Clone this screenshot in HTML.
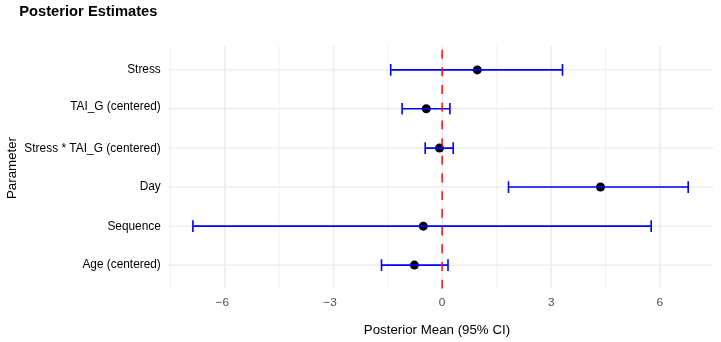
<!DOCTYPE html><html><head><meta charset="utf-8"><title>Posterior Estimates</title><style>html,body{margin:0;padding:0;background:#fff;overflow:hidden;}svg{display:block;}text{font-family:"Liberation Sans",Arial,sans-serif;}</style></head><body>
<svg width="721" height="342" viewBox="0 0 721 342">
<rect width="721" height="342" fill="#fff"/>
<line x1="170.37" y1="45.7" x2="170.37" y2="288.6" stroke="#EBEBEB" stroke-width="0.71"/>
<line x1="279.18" y1="45.7" x2="279.18" y2="288.6" stroke="#EBEBEB" stroke-width="0.71"/>
<line x1="388.00" y1="45.7" x2="388.00" y2="288.6" stroke="#EBEBEB" stroke-width="0.71"/>
<line x1="496.80" y1="45.7" x2="496.80" y2="288.6" stroke="#EBEBEB" stroke-width="0.71"/>
<line x1="605.62" y1="45.7" x2="605.62" y2="288.6" stroke="#EBEBEB" stroke-width="0.71"/>
<line x1="224.78" y1="45.7" x2="224.78" y2="288.6" stroke="#EBEBEB" stroke-width="1.42"/>
<line x1="333.59" y1="45.7" x2="333.59" y2="288.6" stroke="#EBEBEB" stroke-width="1.42"/>
<line x1="442.40" y1="45.7" x2="442.40" y2="288.6" stroke="#EBEBEB" stroke-width="1.42"/>
<line x1="551.21" y1="45.7" x2="551.21" y2="288.6" stroke="#EBEBEB" stroke-width="1.42"/>
<line x1="660.02" y1="45.7" x2="660.02" y2="288.6" stroke="#EBEBEB" stroke-width="1.42"/>
<line x1="168.0" y1="69.9" x2="713.0" y2="69.9" stroke="#EBEBEB" stroke-width="1.42"/>
<line x1="168.0" y1="108.75" x2="713.0" y2="108.75" stroke="#EBEBEB" stroke-width="1.42"/>
<line x1="168.0" y1="148.1" x2="713.0" y2="148.1" stroke="#EBEBEB" stroke-width="1.42"/>
<line x1="168.0" y1="187.05" x2="713.0" y2="187.05" stroke="#EBEBEB" stroke-width="1.42"/>
<line x1="168.0" y1="226.15" x2="713.0" y2="226.15" stroke="#EBEBEB" stroke-width="1.42"/>
<line x1="168.0" y1="265.1" x2="713.0" y2="265.1" stroke="#EBEBEB" stroke-width="1.42"/>
<circle cx="477.3" cy="69.9" r="4.5" fill="#000"/>
<circle cx="426.3" cy="108.75" r="4.5" fill="#000"/>
<circle cx="439.5" cy="148.1" r="4.5" fill="#000"/>
<circle cx="600.5" cy="187.05" r="4.5" fill="#000"/>
<circle cx="423.3" cy="226.15" r="4.5" fill="#000"/>
<circle cx="414.4" cy="265.1" r="4.5" fill="#000"/>
<path d="M390.7 64.05V75.75M390.7 69.9H562.5M562.5 64.05V75.75" stroke="#0000FF" stroke-width="1.6" fill="none"/>
<path d="M402.1 102.90V114.60M402.1 108.75H449.9M449.9 102.90V114.60" stroke="#0000FF" stroke-width="1.6" fill="none"/>
<path d="M425.2 142.25V153.95M425.2 148.1H453.2M453.2 142.25V153.95" stroke="#0000FF" stroke-width="1.6" fill="none"/>
<path d="M508.5 181.20V192.90M508.5 187.05H688.2M688.2 181.20V192.90" stroke="#0000FF" stroke-width="1.6" fill="none"/>
<path d="M192.9 220.30V232.00M192.9 226.15H651.2M651.2 220.30V232.00" stroke="#0000FF" stroke-width="1.6" fill="none"/>
<path d="M381.5 259.25V270.95M381.5 265.1H448.0M448.0 259.25V270.95" stroke="#0000FF" stroke-width="1.6" fill="none"/>
<line x1="442.15" y1="288.6" x2="442.15" y2="45.7" stroke="#FF0000" stroke-opacity="0.85" stroke-width="1.7" stroke-dasharray="8.85 8.85"/>
<text x="160.8" y="72.5" font-size="11.85" fill="#000" text-anchor="end">Stress</text>
<text x="160.8" y="109.5" font-size="11.85" fill="#000" text-anchor="end">TAI_G (centered)</text>
<text x="160.8" y="151.6" font-size="11.85" fill="#000" text-anchor="end" textLength="136.6" lengthAdjust="spacing">Stress * TAI_G (centered)</text>
<text x="160.8" y="189.7" font-size="11.85" fill="#000" text-anchor="end">Day</text>
<text x="160.8" y="229.6" font-size="11.85" fill="#000" text-anchor="end">Sequence</text>
<text x="160.8" y="268.0" font-size="11.85" fill="#000" text-anchor="end">Age (centered)</text>
<text x="222.30" y="306.0" font-size="11.8" fill="#4D4D4D" text-anchor="middle">−6</text>
<text x="330.10" y="306.0" font-size="11.8" fill="#4D4D4D" text-anchor="middle">−3</text>
<text x="442.00" y="306.0" font-size="11.8" fill="#4D4D4D" text-anchor="middle">0</text>
<text x="551.25" y="306.0" font-size="11.8" fill="#4D4D4D" text-anchor="middle">3</text>
<text x="659.75" y="306.0" font-size="11.8" fill="#4D4D4D" text-anchor="middle">6</text>
<text x="363.8" y="333.5" font-size="13.3" fill="#000">Posterior Mean (95% CI)</text>
<text transform="translate(15.8 168.0) rotate(-90)" x="0" y="0" font-size="13.3" fill="#000" text-anchor="middle">Parameter</text>
<text x="19.2" y="15.6" font-size="14.72" font-weight="bold" fill="#000">Posterior Estimates</text>
</svg></body></html>
